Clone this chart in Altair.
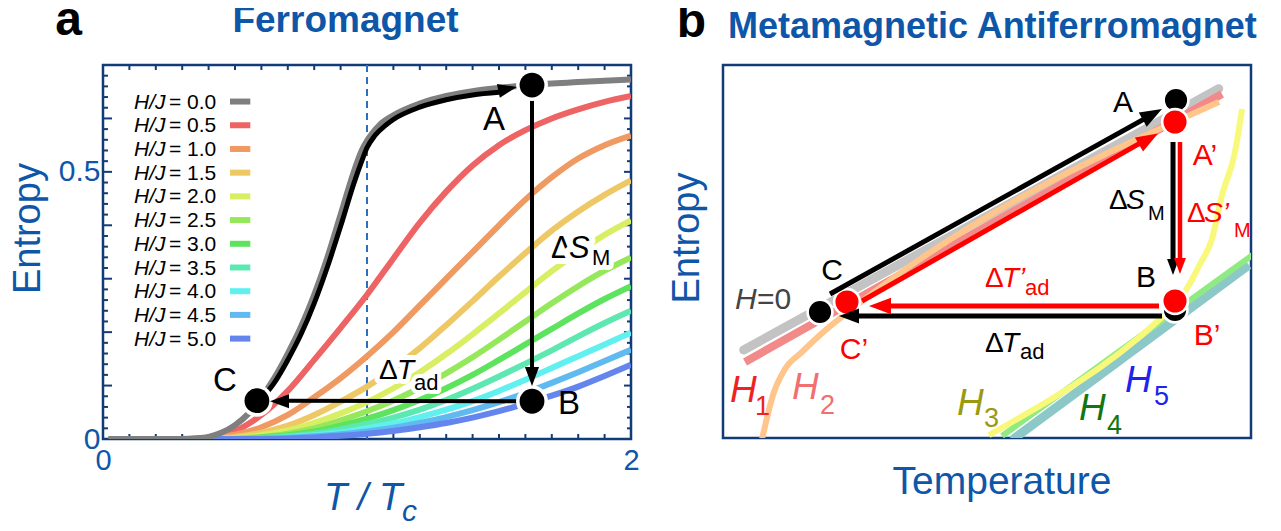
import altair as alt
import pandas as pd

FONT = "Liberation Sans, Arial, Helvetica, sans-serif"
BLUE = "#0e56a8"
FRAME = "#123c78"
RED = "#ff0000"

# ---------------- Panel a: ferromagnet ----------------
H_LABELS = ["0.0", "0.5", "1.0", "1.5", "2.0", "2.5", "3.0", "3.5", "4.0", "4.5", "5.0"]
H_COLORS = ["#7f7f7f", "#ee6464", "#ef9a62", "#efc866", "#d9ee62", "#95e85b",
            "#5ee35f", "#5ee8b1", "#5ff0ef", "#60b9ef", "#6485ee"]

T_H0 = [0.02, 0.30, 0.35, 0.40, 0.45, 0.50, 0.55, 0.60, 0.65, 0.70, 0.75, 0.80, 0.85,
        0.90, 0.95, 0.98, 1.00, 1.02, 1.05, 1.10, 1.20, 1.30, 1.40, 1.50, 1.63, 1.80, 2.00]
S_H0 = [0.0, 0.0, 0.001, 0.004, 0.012, 0.026, 0.047, 0.078, 0.115, 0.160, 0.210, 0.270, 0.340,
        0.420, 0.500, 0.540, 0.558, 0.572, 0.589, 0.606, 0.628, 0.642, 0.651, 0.657, 0.663, 0.668, 0.673]

T_FIELD = [0.3, 0.4, 0.5, 0.6, 0.7, 0.8, 0.9, 1.0, 1.1, 1.2, 1.3, 1.4, 1.5, 1.6, 1.7, 1.8, 1.9, 2.0]
S_H05 = [0.0, 0.003, 0.015, 0.045, 0.090, 0.148, 0.208, 0.270, 0.338, 0.405, 0.463, 0.512, 0.550, 0.578, 0.600, 0.617, 0.631, 0.642]
S_H10 = [0.0, 0.002, 0.008, 0.022, 0.045, 0.078, 0.114, 0.155, 0.200, 0.250, 0.300, 0.350, 0.400, 0.448, 0.490, 0.525, 0.550, 0.568]
S_H15 = [0.0, 0.001, 0.004, 0.012, 0.025, 0.045, 0.070, 0.098, 0.132, 0.170, 0.213, 0.258, 0.304, 0.348, 0.390, 0.426, 0.457, 0.484]
S_H20 = [0.0, 0.0, 0.002, 0.007, 0.016, 0.030, 0.048, 0.069, 0.095, 0.125, 0.159, 0.196, 0.235, 0.275, 0.314, 0.350, 0.382, 0.409]
S_H25 = [0.0, 0.0, 0.001, 0.004, 0.010, 0.020, 0.035, 0.052, 0.072, 0.096, 0.123, 0.153, 0.186, 0.220, 0.254, 0.286, 0.315, 0.340]
S_H30 = [0.0, 0.0, 0.0, 0.003, 0.007, 0.014, 0.025, 0.038, 0.054, 0.073, 0.095, 0.120, 0.148, 0.177, 0.206, 0.235, 0.262, 0.286]
S_H35 = [0.0, 0.0, 0.0, 0.002, 0.005, 0.010, 0.018, 0.028, 0.040, 0.055, 0.073, 0.094, 0.117, 0.141, 0.166, 0.192, 0.217, 0.240]
S_H40 = [0.0, 0.0, 0.0, 0.001, 0.003, 0.007, 0.012, 0.020, 0.029, 0.041, 0.055, 0.071, 0.090, 0.111, 0.133, 0.155, 0.177, 0.199]
S_H45 = [0.0, 0.0, 0.0, 0.001, 0.002, 0.005, 0.009, 0.014, 0.021, 0.030, 0.041, 0.054, 0.069, 0.086, 0.105, 0.125, 0.146, 0.167]
S_H50 = [0.0, 0.0, 0.0, 0.0, 0.001, 0.003, 0.006, 0.010, 0.015, 0.022, 0.030, 0.040, 0.052, 0.066, 0.081, 0.098, 0.118, 0.139]
S_FIELD = [S_H05, S_H10, S_H15, S_H20, S_H25, S_H30, S_H35, S_H40, S_H45, S_H50]

# black path C -> A along the zero-field curve
T_PATH = [0.59, 0.65, 0.70, 0.75, 0.80, 0.85, 0.90, 0.95, 0.98, 1.00, 1.03, 1.07, 1.10, 1.20, 1.30, 1.40, 1.50]
S_PATH = [0.070, 0.106, 0.148, 0.196, 0.254, 0.322, 0.398, 0.478, 0.520, 0.545, 0.568, 0.587, 0.598, 0.621, 0.635, 0.644, 0.649]

# cycle points A, B, C
CYC_NAMES = ["A", "B", "C"]
CYC_T = [1.625, 1.625, 0.583]
CYC_S = [0.6625, 0.0706, 0.0717]

# ---------------- Panel b: metamagnetic antiferromagnet (arbitrary units) ----------------
B_H0_X = [3.92, 93.88]
B_H0_Y = [23.59, 93.65]
B_H1_X = [4.17, 94.51]
B_H1_Y = [20.38, 92.23]
B_H2_X = [7.39, 9.66, 11.74, 14.96, 18.37, 26.89, 93.94]
B_H2_Y = [-0.27, 12.33, 18.50, 23.06, 27.61, 37.27, 90.08]
B_H3_X = [98.30, 96.97, 94.51, 92.61, 90.34, 88.26, 85.61, 82.58, 50.38]
B_H3_Y = [88.20, 76.68, 65.15, 53.35, 46.65, 41.02, 35.66, 31.64, 0.80]
B_H4_X = [52.84, 100.57]
B_H4_Y = [0.54, 49.33]
B_H5_X = [54.73, 99.62]
B_H5_Y = [-0.54, 46.38]

# state points: black (A, B, C) and red (A', B', C')
B_BLACK_X = [85.80, 85.61, 18.37]
B_BLACK_Y = [90.62, 34.32, 33.78]
B_RED_X = [85.61, 85.61, 23.48]
B_RED_Y = [84.72, 36.73, 36.46]

W_A, H_A = 528, 374
W_B, H_B = 528, 373

XA = alt.X("x:Q", scale=alt.Scale(domain=[0, 2], nice=False, zero=False),
           axis=alt.Axis(values=[0, 1, 2], format="d", labelFontSize=29, labelColor=BLUE,
                         labelFont=FONT, ticks=False, domain=False, grid=False, title=None,
                         labelPadding=7, labelFlush=False))
YA = alt.Y("y:Q", scale=alt.Scale(domain=[0, 0.7], nice=False, zero=False),
           axis=alt.Axis(values=[0, 0.5], format="~g", labelFontSize=30, labelColor=BLUE,
                         labelFont=FONT, ticks=False, domain=False, grid=False, title=None,
                         labelPadding=3, labelFlush=False))
XB = alt.X("x:Q", scale=alt.Scale(domain=[0, 100], nice=False, zero=False), axis=None)
YB = alt.Y("y:Q", scale=alt.Scale(domain=[0, 100], nice=False, zero=False), axis=None)

ARROW = "M0,0L-1,-0.37L-1,0.37Z"


def text_layers(X, Y, x, y, s, size, color, style="normal", weight="normal",
                align="left", baseline="alphabetic", angle=0, halo=0):
    d = pd.DataFrame({"x": [x], "y": [y], "t": [s]})
    kw = dict(font=FONT, fontSize=size, fontStyle=style, fontWeight=weight,
              align=align, baseline=baseline)
    if angle:
        kw["angle"] = angle
    out = []
    if halo:
        out.append(alt.Chart(d).mark_text(fill="white", stroke="white", strokeWidth=halo,
                                          strokeJoin="round", **kw)
                   .encode(x=X, y=Y, text="t:N"))
    out.append(alt.Chart(d).mark_text(color=color, **kw).encode(x=X, y=Y, text="t:N"))
    return out


def line_layer(X, Y, xs, ys, color, width, interp="linear", cap="butt", clip=False, dash=None):
    d = pd.DataFrame({"x": xs, "y": ys, "i": list(range(len(xs)))})
    kw = dict(color=color, strokeWidth=width, interpolate=interp, strokeCap=cap, clip=clip)
    if dash:
        kw["strokeDash"] = dash
    return alt.Chart(d).mark_line(**kw).encode(x=X, y=Y, order="i:Q")


def seg_layer(X, Y, x1, y1, x2, y2, color, width):
    d = pd.DataFrame({"x": [x1], "y": [y1], "x2": [x2], "y2": [y2]})
    return alt.Chart(d).mark_rule(color=color, strokeWidth=width, strokeCap="butt").encode(
        x=X, y=Y, x2=alt.X2("x2"), y2=alt.Y2("y2"))


def head_layer(X, Y, x, y, angle, length, color):
    d = pd.DataFrame({"x": [x], "y": [y]})
    return alt.Chart(d).mark_point(shape=ARROW, filled=True, size=4 * length * length,
                                   angle=angle, color=color, opacity=1, strokeWidth=0).encode(x=X, y=Y)


def dot_layers(X, Y, xs, ys, color, diam, halo):
    d = pd.DataFrame({"x": xs, "y": ys})
    r1 = (diam + 2 * halo) / 2.0
    r2 = diam / 2.0
    return [alt.Chart(d).mark_circle(color="white", opacity=1, size=3.1416 * r1 * r1).encode(x=X, y=Y),
            alt.Chart(d).mark_circle(color=color, opacity=1, size=3.1416 * r2 * r2).encode(x=X, y=Y)]


# ---------------- build panel a ----------------
A = []
tick_x = pd.DataFrame({"x": [round(0.1 * i, 1) for i in range(1, 20)]})
tick_y_minor = pd.DataFrame({"y": [round(0.02 * i, 2) for i in range(1, 35) if i % 5 != 0]})
tick_y_major = pd.DataFrame({"y": [0.1, 0.2, 0.3, 0.4, 0.5, 0.6]})
A.append(alt.Chart(tick_x).mark_rule(color=FRAME, strokeWidth=2).encode(x=XA, y=alt.value(0), y2=alt.value(5)))
A.append(alt.Chart(tick_x).mark_rule(color=FRAME, strokeWidth=2).encode(x=XA, y=alt.value(H_A), y2=alt.value(H_A - 5)))
A.append(alt.Chart(tick_y_minor).mark_rule(color=FRAME, strokeWidth=2).encode(y=YA, x=alt.value(0), x2=alt.value(5)))
A.append(alt.Chart(tick_y_minor).mark_rule(color=FRAME, strokeWidth=2).encode(y=YA, x=alt.value(W_A), x2=alt.value(W_A - 4)))
A.append(alt.Chart(tick_y_major).mark_rule(color=FRAME, strokeWidth=2).encode(y=YA, x=alt.value(0), x2=alt.value(9)))
A.append(alt.Chart(tick_y_major).mark_rule(color=FRAME, strokeWidth=2).encode(y=YA, x=alt.value(W_A), x2=alt.value(W_A - 7)))
# dashed Tc line
A.append(alt.Chart(pd.DataFrame({"x": [1.0]})).mark_rule(color="#2a6fc0", strokeWidth=2, strokeDash=[7, 5])
         .encode(x=XA, y=alt.value(0), y2=alt.value(H_A)))
# field curves
for s_vals, col in zip(S_FIELD, H_COLORS[1:]):
    A.append(line_layer(XA, YA, T_FIELD, s_vals, col, 6, interp="monotone", clip=True))
A.append(line_layer(XA, YA, T_H0, S_H0, H_COLORS[0], 6, interp="monotone", clip=True))
# black path C -> A
A.append(line_layer(XA, YA, T_PATH, S_PATH, "black", 5, interp="monotone"))
# arrows A->B and B->C
A.append(seg_layer(XA, YA, CYC_T[0], CYC_S[0], CYC_T[1], 0.1256, "black", 4))
A.append(seg_layer(XA, YA, CYC_T[1], CYC_S[1], 0.6856, CYC_S[2], "black", 4))
# dots
A += dot_layers(XA, YA, CYC_T, CYC_S, "black", 28, 4)
# arrow heads
A.append(head_layer(XA, YA, 1.625, 0.0994, 90, 19, "black"))
A.append(head_layer(XA, YA, 0.6326, 0.0706, 180, 19, "black"))
A.append(head_layer(XA, YA, 1.568, 0.659, 348, 19, "black"))
# point labels
A += text_layers(XA, YA, 1.481, 0.5775, "A", 33, "black", align="center")
A += text_layers(XA, YA, 1.765, 0.0469, "B", 33, "black", align="center")
A += text_layers(XA, YA, 0.462, 0.090, "C", 33, "black", align="center")
# Delta S_M
A += text_layers(XA, YA, 1.697, 0.3394, "Δ", 31, "black", halo=12)
A += text_layers(XA, YA, 1.765, 0.3394, "S", 31, "black", style="italic", halo=12)
A += text_layers(XA, YA, 1.852, 0.3263, "M", 22, "black", halo=10)
# Delta T_ad
A += text_layers(XA, YA, 1.045, 0.1125, "Δ", 28, "black", halo=10)
A += text_layers(XA, YA, 1.114, 0.1125, "T", 28, "black", style="italic", halo=10)
A += text_layers(XA, YA, 1.178, 0.0919, "ad", 22, "black", halo=8)
# legend
for i, (lab, col) in enumerate(zip(H_LABELS, H_COLORS)):
    yy = 0.6296 - 0.04437 * i
    A += text_layers(XA, YA, 0.237, yy, "H/J", 21, "black", style="italic", align="right", baseline="middle")
    A += text_layers(XA, YA, 0.250, yy, "= " + lab, 21, "black", baseline="middle")
    A.append(seg_layer(XA, YA, 0.481, yy + 0.002, 0.558, yy + 0.002, col, 6))
# titles and axis titles
A += text_layers(XA, YA, -0.1307, 0.7557, "a", 48, "black", weight="bold", align="center")
A += text_layers(XA, YA, 0.9186, 0.7619, "Ferromagnet", 37, BLUE, weight="bold", align="center")
A += text_layers(XA, YA, -0.2386, 0.3938, "Entropy", 38, BLUE, align="center", angle=270)
A += text_layers(XA, YA, 0.985, -0.1331, "T / T", 38, BLUE, style="italic", align="center")
A += text_layers(XA, YA, 1.1326, -0.1538, "c", 30, BLUE, style="italic")

panel_a = alt.layer(*A).properties(width=W_A, height=H_A)

# ---------------- build panel b ----------------
B = []
B.append(line_layer(XB, YB, B_H0_X, B_H0_Y, "#c3c3c3", 9, cap="round", clip=True))
B.append(line_layer(XB, YB, B_H1_X, B_H1_Y, "#f28a8a", 8, clip=True))
B.append(line_layer(XB, YB, B_H2_X, B_H2_Y, "#ffc58a", 6, interp="monotone", clip=True))
B.append(line_layer(XB, YB, B_H5_X, B_H5_Y, "#8cc8c8", 9, clip=True))
B.append(line_layer(XB, YB, B_H4_X, B_H4_Y, "#90ea82", 6, clip=True))
B.append(line_layer(XB, YB, B_H3_X, B_H3_Y, "#f8f87a", 6, interp="monotone", clip=True))
# dots
B += dot_layers(XB, YB, B_BLACK_X, B_BLACK_Y, "black", 25, 3)
B += dot_layers(XB, YB, B_RED_X, B_RED_Y, RED, 26, 3)
# arrows (black: A-B-C cycle, red: primed cycle)
B.append(seg_layer(XB, YB, 20.27, 38.61, 80.49, 86.11, "black", 5))
B.append(seg_layer(XB, YB, 26.33, 36.73, 79.75, 79.65, RED, 5))
B.append(seg_layer(XB, YB, 83.14, 32.71, 24.62, 32.71, "black", 5))
B.append(seg_layer(XB, YB, 82.58, 35.39, 30.30, 35.39, RED, 5))
B.append(seg_layer(XB, YB, 85.23, 79.36, 85.23, 46.65, "black", 5))
B.append(seg_layer(XB, YB, 86.55, 79.36, 86.55, 46.92, RED, 4.5))
B.append(head_layer(XB, YB, 83.14, 88.20, 331, 22, "black"))
B.append(head_layer(XB, YB, 82.39, 81.64, 330, 22, RED))
B.append(head_layer(XB, YB, 21.97, 32.71, 180, 20, "black"))
B.append(head_layer(XB, YB, 27.65, 35.39, 180, 22, RED))
B.append(head_layer(XB, YB, 85.23, 43.70, 90, 16, "black"))
B.append(head_layer(XB, YB, 86.55, 43.97, 90, 16, RED))
# point labels
B += text_layers(XB, YB, 75.76, 87.40, "A", 30, "black", align="center")
B += text_layers(XB, YB, 91.29, 73.19, "A’", 30, RED, align="center")
B += text_layers(XB, YB, 80.11, 40.48, "B", 30, "black", align="center")
B += text_layers(XB, YB, 91.67, 24.93, "B’", 30, RED, align="center")
B += text_layers(XB, YB, 20.64, 42.36, "C", 30, "black", align="center")
B += text_layers(XB, YB, 24.81, 21.18, "C’", 30, RED, align="center")
# field labels
B += text_layers(XB, YB, 2.27, 34.58, "H", 30, "#444444", style="italic")
B += text_layers(XB, YB, 6.44, 34.58, "=0", 30, "#444444")
for hx, hy, sx, sy, sub, col in [(1.33, 9.65, 6.06, 6.17, "1", "#ee2222"),
                                 (13.07, 10.46, 18.37, 6.43, "2", "#f07070"),
                                 (44.32, 6.17, 49.43, 2.95, "3", "#9a9a10"),
                                 (67.42, 4.83, 72.73, 1.07, "4", "#117711"),
                                 (76.14, 12.33, 81.63, 8.85, "5", "#2222ee")]:
    B += text_layers(XB, YB, hx, hy, "H", 37, col, style="italic")
    B += text_layers(XB, YB, sx, sy, sub, 27, col)
# Delta labels
B += text_layers(XB, YB, 49.62, 40.48, "Δ", 28, RED)
B += text_layers(XB, YB, 52.84, 40.48, "T’", 28, RED, style="italic")
B += text_layers(XB, YB, 57.20, 38.34, "ad", 22, RED)
B += text_layers(XB, YB, 49.62, 23.06, "Δ", 28, "black")
B += text_layers(XB, YB, 52.84, 23.06, "T", 28, "black", style="italic")
B += text_layers(XB, YB, 56.25, 21.18, "ad", 22, "black")
B += text_layers(XB, YB, 73.11, 61.39, "Δ", 28, "black")
B += text_layers(XB, YB, 76.33, 61.39, "S", 28, "black", style="italic")
B += text_layers(XB, YB, 80.49, 58.45, "M", 20, "black")
B += text_layers(XB, YB, 87.88, 57.91, "Δ", 28, RED)
B += text_layers(XB, YB, 91.10, 57.91, "S’", 28, RED, style="italic")
B += text_layers(XB, YB, 96.78, 53.89, "M", 20, RED)
# titles
B += text_layers(XB, YB, -6.0, 107.4, "b", 48, "black", weight="bold", align="center")
B += text_layers(XB, YB, 51.0, 107.2, "Metamagnetic Antiferromagnet", 36, BLUE, weight="bold", align="center")
B += text_layers(XB, YB, -4.55, 53.62, "Entropy", 38, BLUE, align="center", angle=270)
B += text_layers(XB, YB, 52.84, -15.01, "Temperature", 39, BLUE, align="center")

panel_b = alt.layer(*B).properties(width=W_B, height=H_B)

chart = (alt.hconcat(panel_a, panel_b, spacing=26)
         .configure_view(stroke=FRAME, strokeWidth=2.5)
         .properties(padding={"left": 0, "top": -13, "right": 0, "bottom": 0}))

chart.save("out.html", embed_options={"renderer": "svg", "actions": False})
